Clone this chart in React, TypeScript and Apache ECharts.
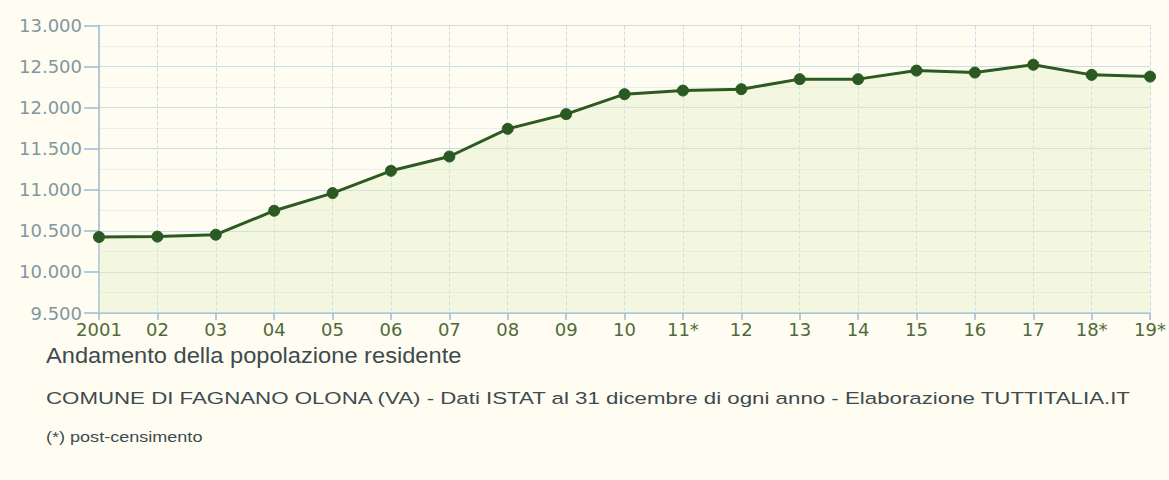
import React, { useEffect, useRef } from "react";
import * as echarts from "echarts";

const years = ["2001", "02", "03", "04", "05", "06", "07", "08", "09", "10", "11*", "12", "13", "14", "15", "16", "17", "18*", "19*"];
const population = [10425, 10430, 10453, 10745, 10960, 11231, 11405, 11742, 11921, 12164, 12208, 12225, 12347, 12347, 12451, 12427, 12522, 12399, 12378];
const yTicks = { min: 9500, max: 13000, interval: 500 };
const titleText = "Andamento della popolazione residente";
const subtitleText = "COMUNE DI FAGNANO OLONA (VA) - Dati ISTAT al 31 dicembre di ogni anno - Elaborazione TUTTITALIA.IT";
const noteText = "(*) post-censimento";

export default function App() {
  const ref = useRef<HTMLDivElement>(null);
  useEffect(() => {
    if (!ref.current) return;
    const chart = echarts.init(ref.current, null, { renderer: "svg" });
    const font = "'Liberation Sans', Arial, sans-serif";
    const axisFont = "'DejaVu Sans', sans-serif";
    chart.setOption({
      animation: false,
      backgroundColor: "#fffdf1",
      grid: { left: 99, right: 17, top: 25.5, bottom: 167, containLabel: false },
      xAxis: {
        type: "category",
        data: years,
        boundaryGap: false,
        axisLine: { lineStyle: { color: "#9dbdd0", width: 1.5 } },
        axisTick: { inside: false, length: 7, lineStyle: { color: "#9dbdd0", width: 1.5 }, alignWithLabel: true },
        axisLabel: { color: "#4f6a3a", fontSize: 18, fontFamily: axisFont, margin: 7, interval: 0 },
        splitLine: { show: true, lineStyle: { color: "#c9dde8", type: "dashed", width: 1 } },
      },
      yAxis: {
        type: "value",
        min: yTicks.min,
        max: yTicks.max,
        interval: yTicks.interval,
        axisLine: { show: true, lineStyle: { color: "#9dbdd0", width: 1.5 } },
        axisTick: { show: true, length: 15, lineStyle: { color: "#9dbdd0", width: 1.5 } },
        axisLabel: {
          color: "#7f97a3",
          fontSize: 18,
          fontFamily: axisFont,
          margin: 17,
          formatter: (v: number) => v.toLocaleString("de-DE"),
        },
        splitLine: { show: true, lineStyle: { color: "#c9dde8", width: 1 } },
        minorTick: { show: false, splitNumber: 2 },
        minorSplitLine: { show: true, lineStyle: { color: "#e9f0ea", width: 1 } },
      },
      series: [
        {
          type: "line",
          data: population,
          symbol: "circle",
          symbolSize: 11,
          lineStyle: { color: "#2c5a22", width: 3 },
          itemStyle: { color: "#2a5a22", borderColor: "#2a5a22" },
          areaStyle: { color: "rgba(226,238,196,0.55)", origin: "start" },
        },
      ],
      graphic: [
        { type: "text", x: 46, y: 345, scaleX: 1.1, style: { text: titleText, fontSize: 21.5, fill: "#3d4a50", fontFamily: font } },
        { type: "text", x: 46, y: 390, scaleX: 1.35, style: { text: subtitleText, fontSize: 16.5, fill: "#3d4a50", fontFamily: font } },
        { type: "text", x: 46, y: 430, scaleX: 1.29, style: { text: noteText, fontSize: 14, fill: "#3d4a50", fontFamily: font } },
      ],
    });
    return () => chart.dispose();
  }, []);
  return <div ref={ref} style={{ position: "fixed", left: 0, top: 0, width: 1169, height: 480 }} />;
}
